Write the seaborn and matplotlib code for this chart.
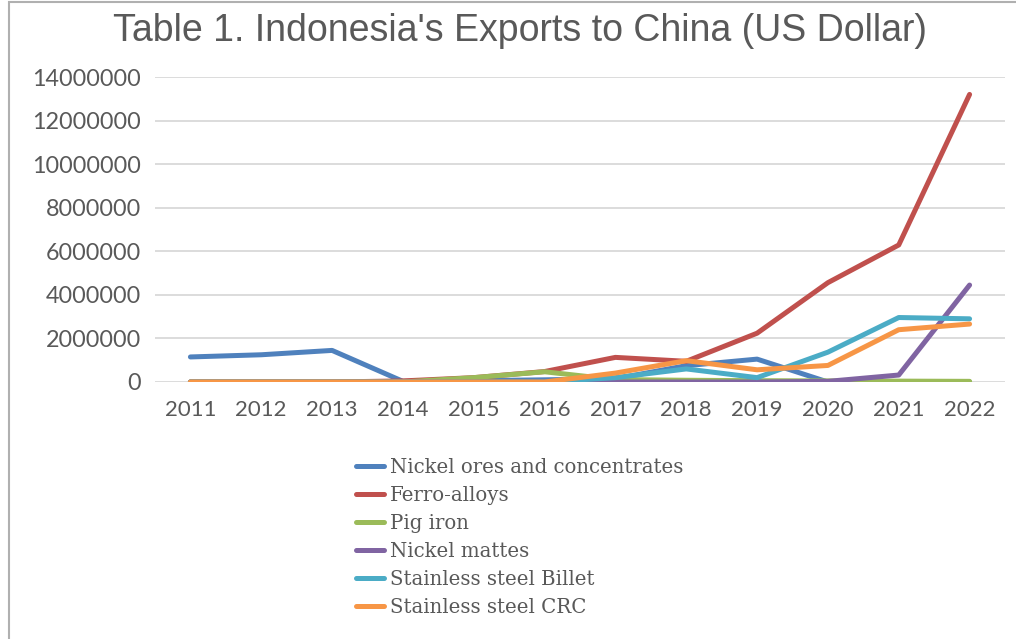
import matplotlib
matplotlib.use("Agg")
import matplotlib.pyplot as plt
from matplotlib.lines import Line2D
from matplotlib.patches import Rectangle
import seaborn as sns
import pandas as pd

years = list(range(2011, 2023))
series_names = ["Nickel ores and concentrates", "Ferro-alloys", "Pig iron",
                "Nickel mattes", "Stainless steel Billet", "Stainless steel CRC"]
nickel_ores = [1150000, 1250000, 1450000, 30000, 60000, 100000, 150000, 750000, 1050000, 0, 0, 0]
ferro_alloys = [0, 0, 0, 50000, 200000, 480000, 1130000, 950000, 2240000, 4560000, 6290000, 13200000]
pig_iron = [0, 0, 0, 0, 200000, 470000, 110000, 80000, 60000, 50000, 40000, 30000]
nickel_mattes = [0, 0, 0, 0, 0, 0, 0, 0, 0, 30000, 320000, 4450000]
ss_billet = [0, 0, 0, 0, 0, 0, 200000, 600000, 200000, 1370000, 2960000, 2900000]
ss_crc = [0, 0, 0, 0, 0, 0, 410000, 980000, 560000, 760000, 2400000, 2660000]
colors = ["#4F81BD", "#C0504D", "#9BBB59", "#8064A2", "#4BACC6", "#F79646"]
ytick_values = list(range(0, 14000001, 2000000))

all_values = [nickel_ores, ferro_alloys, pig_iron, nickel_mattes, ss_billet, ss_crc]
rows = []
for name, vals in zip(series_names, all_values):
    for y, v in zip(years, vals):
        rows.append({"Year": y, "Value": v, "Series": name})
df = pd.DataFrame(rows)

sns.set_theme(style="white")
plt.rcParams["font.family"] = ["Lato", "DejaVu Sans"]

fig = plt.figure(figsize=(10.16, 6.39), dpi=100)
ax = fig.add_axes([155 / 1016, 1 - 382 / 639, 850 / 1016, (382 - 77) / 639])

sns.lineplot(data=df, x="Year", y="Value", hue="Series", hue_order=series_names,
             palette=colors, linewidth=3.6, ax=ax, legend=False, sort=False)

ax.set_xlim(2010.5, 2022.5)
ax.set_ylim(0, 14000000)
ax.set_yticks(ytick_values)
ax.set_yticklabels([str(v) for v in ytick_values])
ax.set_xticks(years)
ax.set_xticklabels([str(y) for y in years])
ax.grid(axis="y", color="#d9d9d9", linewidth=1.3)
ax.set_axisbelow(True)
for s in ax.spines.values():
    s.set_visible(False)
ax.tick_params(axis="both", length=0, colors="#595959")
ax.tick_params(axis="y", pad=10, labelsize=16.8)
ax.tick_params(axis="x", pad=13, labelsize=16)
ax.set_xlabel("")
ax.set_ylabel("")

fig.text(0.512, 0.952, "Table 1. Indonesia's Exports to China (US Dollar)",
         ha="center", va="center", fontsize=27, color="#595959",
         family=["Liberation Sans", "DejaVu Sans"])

handles = [Line2D([0], [0], color=c, linewidth=3.6) for c in colors]
leg = fig.legend(handles, series_names, loc="upper left",
                 bbox_to_anchor=(338 / 1016, 1 - 440 / 639), frameon=False,
                 handlelength=1.45, handletextpad=0.3, labelspacing=0.46,
                 prop={"family": ["DejaVu Serif"], "size": 14.2})
for t in leg.get_texts():
    t.set_color("#595959")

fig.patches.append(Rectangle((9 / 1016, -0.1), 1.2, 1 - 2 / 639 + 0.1,
                             transform=fig.transFigure, fill=False,
                             edgecolor="#b0b0b0", linewidth=1.5))

fig.savefig("out.png", dpi=100, facecolor="white")
